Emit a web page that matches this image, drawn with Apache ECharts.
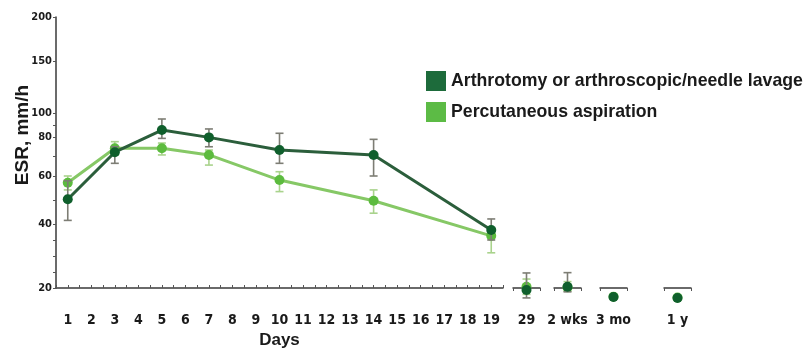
<!DOCTYPE html>
<html><head><meta charset="utf-8">
<script src="https://cdn.jsdelivr.net/npm/echarts@6/dist/echarts.min.js"></script>
<style>html,body{margin:0;padding:0;background:#fff}#c{width:805px;height:348px}</style>
</head><body><div id="c"></div>
<script>
// ---------- data ----------
const days = ['1','2','3','4','5','6','7','8','9','10','11','12','13','14','15','16','17','18','19'];
const sampleDays = ['1','3','5','7','10','14','19'];
const darkMean  = [50.3, 72.2, 85.8, 79.8, 73.3, 70.8, 38.1];
const darkLow   = [41.5, 66.5, 79.3, 75.0, 66.5, 60.0, 35.0];
const darkHigh  = [58.0, 75.0, 95.0, 86.7, 83.1, 78.8, 42.1];
const lightMean = [57.2, 74.2, 74.2, 70.8, 58.3, 49.7, 36.3];
const lightLow  = [54.2, 70.8, 70.8, 65.6, 53.5, 44.5, 31.0];
const lightHigh = [60.0, 77.6, 76.9, 73.3, 62.2, 54.2, 38.8];
const lateLabels = ['29', '2 wks', '3 mo', '1 y'];
const lateDarkMean  = [19.4, 20.4, 17.2, 16.9];
const lateDarkLow   = [16.9, 18.8, null, null];
const lateDarkHigh  = [24.7, 24.8, null, null];
const lateLightMean = [20.4, 20.2, 17.3, 17.0];
const lateLightLow  = [18.0, 19.0, null, null];
const lateLightHigh = [22.8, 22.0, null, null];
const yTickLabels = [20, 40, 60, 80, 100, 150, 200];
const yMinorTicks = [25, 30, 35, 50, 70, 90];
const seriesNames = ['Arthrotomy or arthroscopic/needle lavage', 'Percutaneous aspiration'];

// ---------- layout (axis scale: pixel height of each labelled value above the 20-line) ----------
const yTickPos = [0, 64, 112, 151, 175, 227, 271];
function T(v) {
  if (v == null) return null;
  const a = yTickLabels, p = yTickPos;
  if (v <= a[0]) return p[0] + (v - a[0]) * (p[1] - p[0]) / (a[1] - a[0]);
  for (let i = 1; i < a.length; i++) {
    if (v <= a[i]) return p[i-1] + (v - a[i-1]) * (p[i] - p[i-1]) / (a[i] - a[i-1]);
  }
  const n = a.length - 1;
  return p[n] + (v - a[n]) * (p[n] - p[n-1]) / (a[n] - a[n-1]);
}
const YMAX = T(200);
const DARK_LINE = '#2b5e3b', DARK_MARK = '#0f5f2c', DARK_ERR = '#7d7d74';
const LIGHT_LINE = '#86c866', LIGHT_MARK = '#5cbb3e', LIGHT_ERR = '#a9d38c';
const NARROW = "'Liberation Sans Narrow', 'Arial Narrow', 'DejaVu Sans Condensed', sans-serif";
const tickLabelStyle = { fontFamily: NARROW, fontWeight: 'bold', fontSize: 14, color: '#1a1a1a' };

function errRender(color) {
  return function (params, api) {
    const lov = api.value(1), hiv = api.value(2);
    if (isNaN(lov) || isNaN(hiv)) return null;
    const lo = api.coord([api.value(0), lov]);
    const hi = api.coord([api.value(0), hiv]);
    const w = 4;
    const style = { stroke: color, lineWidth: 1.6 };
    return { type: 'group', children: [
      { type: 'line', shape: { x1: lo[0], y1: lo[1], x2: hi[0], y2: hi[1] }, style },
      { type: 'line', shape: { x1: lo[0] - w, y1: lo[1], x2: lo[0] + w, y2: lo[1] }, style },
      { type: 'line', shape: { x1: hi[0] - w, y1: hi[1], x2: hi[0] + w, y2: hi[1] }, style }
    ]};
  };
}

const grids = [{ left: 56, width: 447, top: 17, bottom: 60, containLabel: false, outerBoundsMode: 'none' }];
const xAxes = [
  { type: 'category', gridIndex: 0, data: days, boundaryGap: true, position: 'bottom',
    name: 'Days', nameLocation: 'middle', nameGap: 43,
    nameTextStyle: { fontFamily: 'Liberation Sans, Arial, sans-serif', fontWeight: 'bold', fontSize: 17, color: '#1a1a1a' },
    axisLine: { lineStyle: { color: '#3a3a3a', width: 1.5 } },
    axisTick: { show: true, alignWithLabel: true, inside: true, length: 3, lineStyle: { color: '#555' } },
    axisLabel: Object.assign({ margin: 25, interval: 0 }, tickLabelStyle) },
  { type: 'category', gridIndex: 0, data: days, boundaryGap: true, position: 'bottom',
    axisLine: { show: false },
    axisTick: { show: true, inside: true, length: 3, lineStyle: { color: '#555' } },
    axisLabel: { show: false } }
];
const yAxes = [
  { type: 'value', gridIndex: 0, min: 0, max: YMAX, splitLine: { show: false },
    axisLine: { show: true, lineStyle: { color: '#3a3a3a', width: 1.5 } },
    axisTick: { show: true, length: 3, lineStyle: { color: '#555' },
      customValues: yTickLabels.concat(yMinorTicks).map(T) },
    axisLabel: Object.assign({ margin: 4, customValues: yTickLabels.map(T),
      formatter: function (v) {
        for (let i = 0; i < yTickLabels.length; i++) if (Math.abs(T(yTickLabels[i]) - v) < 0.01) return String(yTickLabels[i]);
        return '';
      } }, tickLabelStyle, { fontSize: 11 }) }
];

const series = [];
// main grid
series.push({ type: 'custom', name: seriesNames[1], xAxisIndex: 0, yAxisIndex: 0, z: 2,
  renderItem: errRender(LIGHT_ERR),
  data: sampleDays.map((d, i) => [days.indexOf(d), T(lightLow[i]), T(lightHigh[i])]) });
series.push({ type: 'line', name: seriesNames[1], xAxisIndex: 0, yAxisIndex: 0, z: 3,
  symbol: 'circle', symbolSize: 10, itemStyle: { color: LIGHT_MARK },
  lineStyle: { color: LIGHT_LINE, width: 3 },
  data: sampleDays.map((d, i) => [days.indexOf(d), T(lightMean[i])]) });
series.push({ type: 'custom', name: seriesNames[0], xAxisIndex: 0, yAxisIndex: 0, z: 4,
  renderItem: errRender(DARK_ERR),
  data: sampleDays.map((d, i) => [days.indexOf(d), T(darkLow[i]), T(darkHigh[i])]) });
series.push({ type: 'line', name: seriesNames[0], xAxisIndex: 0, yAxisIndex: 0, z: 5,
  symbol: 'circle', symbolSize: 10, itemStyle: { color: DARK_MARK },
  lineStyle: { color: DARK_LINE, width: 3 },
  data: sampleDays.map((d, i) => [days.indexOf(d), T(darkMean[i])]) });

// late-time small panels (broken axis segments)
const lateLeft = [513, 554, 600, 664];
const lateWidth = 27;
lateLabels.forEach((lab, i) => {
  const g = grids.length;
  grids.push({ left: lateLeft[i], width: lateWidth, top: 17, bottom: 60, containLabel: false, outerBoundsMode: 'none' });
  const xi = xAxes.length, yi = yAxes.length;
  xAxes.push({ type: 'category', gridIndex: g, data: [lab], boundaryGap: true,
    axisLine: { lineStyle: { color: '#3a3a3a', width: 1.5 } },
    axisTick: { show: true, length: 3, lineStyle: { color: '#555' } },
    axisLabel: Object.assign({ margin: 25, interval: 0 }, tickLabelStyle) });
  yAxes.push({ type: 'value', gridIndex: g, min: 0, max: YMAX, show: false, splitLine: { show: false } });
  series.push({ type: 'custom', name: seriesNames[1], xAxisIndex: xi, yAxisIndex: yi, z: 2, clip: false,
    renderItem: errRender(LIGHT_ERR), data: [[0, T(lateLightLow[i]), T(lateLightHigh[i])]] });
  series.push({ type: 'line', name: seriesNames[1], xAxisIndex: xi, yAxisIndex: yi, z: 3, clip: false,
    symbol: 'circle', symbolSize: 10, itemStyle: { color: LIGHT_MARK },
    data: [[0, T(lateLightMean[i])]] });
  series.push({ type: 'custom', name: seriesNames[0], xAxisIndex: xi, yAxisIndex: yi, z: 4, clip: false,
    renderItem: errRender(DARK_ERR), data: [[0, T(lateDarkLow[i]), T(lateDarkHigh[i])]] });
  series.push({ type: 'line', name: seriesNames[0], xAxisIndex: xi, yAxisIndex: yi, z: 5, clip: false,
    symbol: 'circle', symbolSize: 10, itemStyle: { color: DARK_MARK },
    data: [[0, T(lateDarkMean[i])]] });
});

const chart = echarts.init(document.getElementById('c'), null, { renderer: 'canvas' });
chart.setOption({
  animation: false,
  backgroundColor: '#ffffff',
  grid: grids,
  xAxis: xAxes,
  yAxis: yAxes,
  legend: {
    orient: 'vertical', left: 421, top: 66, itemWidth: 20, itemHeight: 20, itemGap: 11,
    textStyle: { fontFamily: 'Liberation Sans, Arial, sans-serif', fontWeight: 'bold', fontSize: 17.7, color: '#1a1a1a' },
    data: [
      { name: seriesNames[0], icon: 'rect', itemStyle: { color: '#1d6b3b' } },
      { name: seriesNames[1], icon: 'rect', itemStyle: { color: '#5cbb45' } }
    ]
  },
  graphic: [{
    type: 'text', x: 23, y: 135, rotation: Math.PI / 2,
    style: { text: 'ESR, mm/h', fontFamily: 'Liberation Sans, Arial, sans-serif', fontWeight: 'bold', fontSize: 19,
      fill: '#1a1a1a', align: 'center', verticalAlign: 'middle' }
  }],
  series: series
});
</script></body></html>
